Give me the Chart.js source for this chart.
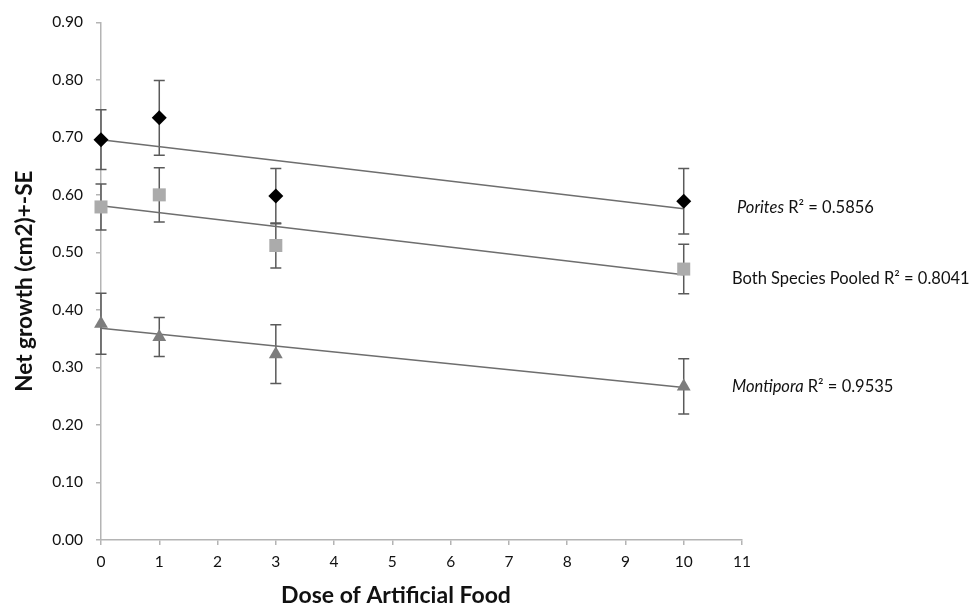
<!DOCTYPE html>
<html>
<head>
<meta charset="utf-8">
<script src="https://cdn.jsdelivr.net/npm/chart.js@4.4.1/dist/chart.umd.min.js"></script>
<style>
  html, body { margin: 0; padding: 0; background: #fff; }
  #wrap { width: 972px; height: 607px; }
</style>
</head>
<body>
<div id="wrap"><canvas id="growth-chart" width="972" height="607"></canvas></div>
<script>
// values
const doses = [0, 1, 3, 10];

const poritesMean = [0.696, 0.734, 0.598, 0.589];
const poritesSE = [0.052, 0.065, 0.048, 0.057];

const pooledMean = [0.579, 0.600, 0.512, 0.471];
const pooledSE = [0.040, 0.047, 0.039, 0.043];

const montiporaMean = [0.376, 0.353, 0.323, 0.267];
const montiporaSE = [0.053, 0.034, 0.051, 0.048];

// linear trendlines (ends at dose 0 and 10)
const trendDoses = [0, 10];
const poritesTrend = [0.696, 0.576];
const pooledTrend = [0.581, 0.461];
const montiporaTrend = [0.368, 0.265];

const yTicks = [0, 0.1, 0.2, 0.3, 0.4, 0.5, 0.6, 0.7, 0.8, 0.9];
const xTicks = [0, 1, 2, 3, 4, 5, 6, 7, 8, 9, 10, 11];

const rLabels = [
    { species: 'Porites', italic: true, rest: ' R\u00B2 = 0.5856' },
    { species: 'Both Species Pooled', italic: false, rest: ' R\u00B2 = 0.8041' },
    { species: 'Montipora', italic: true, rest: ' R\u00B2 = 0.9535' }
];
const xTitle = 'Dose of Artificial Food';
const yTitle = 'Net growth (cm2)+-SE';

function points(xs, ys) {
    return xs.map((x, i) => ({ x: x, y: ys[i] }));
}

document.addEventListener('DOMContentLoaded', function() {
    Chart.defaults.font.family = 'Lato';
    Chart.defaults.color = '#111111';

    const axisGray = '#b4b4b4';
    const textColor = '#111111';

    // error bars drawn under the markers
    const errorBars = {
        id: 'errorBars',
        beforeDatasetsDraw(chart) {
            const ctx = chart.ctx;
            const xs = chart.scales.x;
            const ys = chart.scales.y;
            ctx.save();
            ctx.strokeStyle = '#5a5a5a';
            ctx.lineWidth = 1.5;
            chart.data.datasets.forEach(ds => {
                if (!ds.errors) return;
                ds.data.forEach((p, i) => {
                    const px = xs.getPixelForValue(p.x);
                    const top = ys.getPixelForValue(p.y + ds.errors[i]);
                    const bot = ys.getPixelForValue(p.y - ds.errors[i]);
                    ctx.beginPath();
                    ctx.moveTo(px, top);
                    ctx.lineTo(px, bot);
                    ctx.moveTo(px - 5.5, top);
                    ctx.lineTo(px + 5.5, top);
                    ctx.moveTo(px - 5.5, bot);
                    ctx.lineTo(px + 5.5, bot);
                    ctx.stroke();
                });
            });
            ctx.restore();
        }
    };

    const textLabels = {
        id: 'textLabels',
        afterDraw(chart) {
            const ctx = chart.ctx;
            const pos = [[737, 208], [732, 279], [732, 387]];
            ctx.save();
            ctx.fillStyle = textColor;
            ctx.textBaseline = 'middle';
            ctx.textAlign = 'left';
            rLabels.forEach((lab, i) => {
                let x = pos[i][0];
                const y = pos[i][1];
                ctx.font = (lab.italic ? 'italic ' : '') + '16.5px Lato';
                ctx.fillText(lab.species, x, y);
                x += ctx.measureText(lab.species).width;
                ctx.font = '16.5px Lato';
                ctx.fillText(lab.rest, x, y);
            });
            ctx.font = 'bold 23px Lato';
            ctx.textAlign = 'center';
            ctx.fillText(xTitle, 396, 596);
            ctx.restore();
        }
    };

    const ctx = document.getElementById('growth-chart').getContext('2d');
    new Chart(ctx, {
        type: 'scatter',
        data: {
            datasets: [
                {
                    label: 'Porites',
                    data: points(doses, poritesMean),
                    errors: poritesSE,
                    pointStyle: 'rectRot',
                    pointRadius: 7.5,
                    backgroundColor: '#000000',
                    borderColor: '#000000',
                    borderWidth: 0
                },
                {
                    label: 'Both Species Pooled',
                    data: points(doses, pooledMean),
                    errors: pooledSE,
                    pointStyle: 'rect',
                    pointRadius: 9.2,
                    backgroundColor: '#ababab',
                    borderColor: '#ababab',
                    borderWidth: 0
                },
                {
                    label: 'Montipora',
                    data: points(doses, montiporaMean),
                    errors: montiporaSE,
                    pointStyle: 'triangle',
                    pointRadius: 8,
                    backgroundColor: '#7d7d7d',
                    borderColor: '#7d7d7d',
                    borderWidth: 0
                },
                {
                    label: 'Porites trend',
                    data: points(trendDoses, poritesTrend),
                    showLine: true,
                    pointRadius: 0,
                    borderColor: '#6e6e6e',
                    borderWidth: 1.5
                },
                {
                    label: 'Pooled trend',
                    data: points(trendDoses, pooledTrend),
                    showLine: true,
                    pointRadius: 0,
                    borderColor: '#6e6e6e',
                    borderWidth: 1.5
                },
                {
                    label: 'Montipora trend',
                    data: points(trendDoses, montiporaTrend),
                    showLine: true,
                    pointRadius: 0,
                    borderColor: '#6e6e6e',
                    borderWidth: 1.5
                }
            ]
        },
        options: {
            responsive: false,
            animation: false,
            clip: false,
            layout: {
                padding: { top: 18, right: 230, bottom: 0, left: 0 }
            },
            plugins: {
                legend: { display: false },
                tooltip: { enabled: false }
            },
            scales: {
                x: {
                    type: 'linear',
                    min: 0,
                    max: 11,
                    afterBuildTicks: scale => {
                        scale.ticks = xTicks.map(v => ({ value: v }));
                    },
                    afterFit: scale => { scale.height = 67; },
                    grid: {
                        drawOnChartArea: false,
                        color: axisGray,
                        tickLength: 5,
                        lineWidth: 1.5
                    },
                    border: { color: axisGray, width: 1.5 },
                    ticks: {
                        padding: 8,
                        font: { size: 15.5 },
                        color: textColor,
                        maxRotation: 0
                    }
                },
                y: {
                    type: 'linear',
                    min: 0,
                    max: 0.9,
                    afterBuildTicks: scale => {
                        scale.ticks = yTicks.map(v => ({ value: v }));
                    },
                    afterFit: scale => { scale.width = 101; },
                    grid: {
                        drawOnChartArea: false,
                        color: axisGray,
                        tickLength: 5,
                        lineWidth: 1.5
                    },
                    border: { color: axisGray, width: 1.5 },
                    ticks: {
                        padding: 13,
                        font: { size: 15.5 },
                        color: textColor,
                        callback: v => v.toFixed(2)
                    },
                    title: {
                        display: true,
                        text: yTitle,
                        font: { size: 22.5, weight: 'bold' },
                        color: textColor,
                        padding: { top: 11, bottom: 0 }
                    }
                }
            }
        },
        plugins: [errorBars, textLabels]
    });
});
</script>
</body>
</html>
